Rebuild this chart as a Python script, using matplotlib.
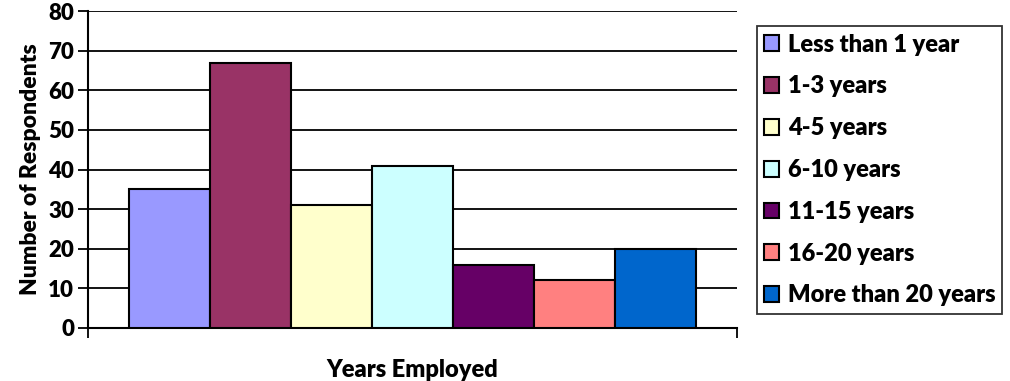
import numpy as np
import matplotlib
matplotlib.use("Agg")
import matplotlib.pyplot as plt

plt.rcParams['font.family'] = ['Lato', 'DejaVu Sans']
plt.rcParams['font.weight'] = 'heavy'

# survey data: one category, seven tenure groups
groups = ["Less than 1 year", "1-3 years", "4-5 years", "6-10 years",
          "11-15 years", "16-20 years", "More than 20 years"]
respondents = [35, 67, 31, 41, 16, 12, 20]
colors = ["#9999FF", "#993366", "#FFFFCC", "#CCFFFF",
          "#660066", "#FF8080", "#0066CC"]

fig = plt.figure(figsize=(10.1, 3.81), dpi=100)
ax = fig.add_axes([88 / 1010, 1 - 328 / 381, (737 - 88) / 1010, (328 - 11) / 381])

n = len(groups)
width = 1.0 / (n + 1)
offsets = (np.arange(n) - (n - 1) / 2) * width
for off, val, col, lab in zip(offsets, respondents, colors, groups):
    ax.bar(off, val, width=width, color=col, edgecolor="black",
           linewidth=1.5, label=lab, zorder=3)

ax.set_xlim(-0.5, 0.5)
ax.set_ylim(0, 80)
ax.set_yticks(range(0, 81, 10))
ax.yaxis.grid(True, color="black", linewidth=1.3)
ax.set_axisbelow(True)
ax.set_xticks([-0.5, 0.5])
ax.set_xticklabels(["", ""])
ax.tick_params(axis="both", direction="out", length=7, width=1.3, color="black",
               labelsize=16)
ax.tick_params(axis="y", pad=3)
for lbl in ax.get_yticklabels():
    lbl.set_fontweight("heavy")

for s in ["top", "right"]:
    ax.spines[s].set_visible(False)
for s in ["left", "bottom"]:
    ax.spines[s].set_linewidth(1.5)

ax.set_ylabel("Number of Respondents", fontsize=16.5, fontweight="heavy", labelpad=5)
ax.set_xlabel("Years Employed", fontsize=17, fontweight="heavy", labelpad=12)

leg = fig.legend(loc="center left", bbox_to_anchor=(757 / 1010, 1 - 170 / 381),
                 prop={"weight": "heavy", "size": 17},
                 frameon=True, fancybox=False, edgecolor="black",
                 handlelength=0.65, handleheight=0.65, handletextpad=0.35,
                 labelspacing=0.84, borderpad=0.3, borderaxespad=0)
leg.get_frame().set_linewidth(1.3)

fig.savefig("out.png", dpi=100)
